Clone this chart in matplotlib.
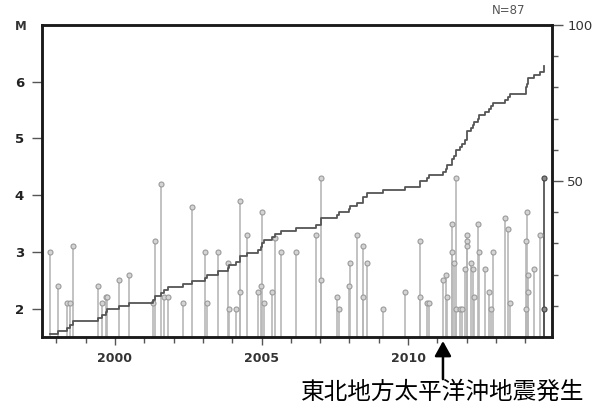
import matplotlib
matplotlib.use("Agg")
import matplotlib.pyplot as plt
from matplotlib.ticker import FixedLocator, NullFormatter
import numpy as np

# event times (decimal year) and magnitudes, in chronological order
times = [1997.79, 1998.07, 1998.36, 1998.45, 1998.58, 1999.43, 1999.55, 1999.68, 1999.73,
         2000.13, 2000.49, 2001.30, 2001.37, 2001.58, 2001.67, 2001.81, 2002.32, 2002.63,
         2003.06, 2003.13, 2003.52, 2003.87, 2003.89, 2004.14, 2004.25, 2004.27, 2004.52,
         2004.89, 2004.98, 2005.01, 2005.08, 2005.35, 2005.45, 2005.65, 2006.17, 2006.86,
         2007.03, 2007.03, 2007.57, 2007.63, 2007.97, 2008.03, 2008.26, 2008.45, 2008.45,
         2008.59, 2009.13, 2009.91, 2010.42, 2010.42, 2010.66, 2010.72, 2011.20, 2011.28,
         2011.34, 2011.49, 2011.49, 2011.56, 2011.62, 2011.65, 2011.76, 2011.85, 2011.93,
         2012.00, 2012.00, 2012.00, 2012.16, 2012.23, 2012.26, 2012.37, 2012.42, 2012.61,
         2012.76, 2012.83, 2012.89, 2013.30, 2013.40, 2013.49, 2014.01, 2014.01, 2014.07,
         2014.10, 2014.10, 2014.30, 2014.50, 2014.63, 2014.63]
mags = [3.0, 2.4, 2.1, 2.1, 3.1, 2.4, 2.1, 2.2, 2.2,
        2.5, 2.6, 2.1, 3.2, 4.2, 2.2, 2.2, 2.1, 3.8,
        3.0, 2.1, 3.0, 2.8, 2.0, 2.0, 2.3, 3.9, 3.3,
        2.3, 2.4, 3.7, 2.1, 2.3, 3.25, 3.0, 3.0, 3.3,
        4.3, 2.5, 2.2, 2.0, 2.4, 2.8, 3.3, 3.1, 2.2,
        2.8, 2.0, 2.3, 3.2, 2.2, 2.1, 2.1, 2.5, 2.6,
        2.2, 3.5, 3.0, 2.8, 4.3, 2.0, 2.0, 2.0, 2.7,
        3.3, 3.2, 3.1, 2.8, 2.7, 2.2, 3.5, 3.0, 2.7,
        2.3, 2.0, 3.0, 3.6, 3.4, 2.1, 3.2, 2.0, 3.7,
        2.6, 2.3, 2.7, 3.3, 4.3, 2.0]
n_recent = 2  # most recent events drawn darker

x_major = [2000, 2005, 2010]
x_labels = ["2000", "2005", "2010"]
x_minor = list(range(1998, 2015))
m_ticks = [2, 3, 4, 5, 6]
n_ticks = [50, 100]
n_minor = [10, 20, 30, 40, 60, 70, 80, 90]
quake_time = 2011.19
quake_label = "東北地方太平洋沖地震発生"

plt.rcParams['font.family'] = ['DejaVu Sans']
fig = plt.figure(figsize=(6.04, 4.09), dpi=100)
ax = fig.add_axes([42/604, 1-337/409, (552-42)/604, (337-25)/409])
ymin, ymax = 1.5, 7.0
ax.set_xlim(1997.51, 2014.91)
ax.set_ylim(ymin, ymax)

t = np.array(times)
m = np.array(mags)
old = slice(0, len(t) - n_recent)
new = slice(len(t) - n_recent, len(t))
ax.vlines(t[old], ymin, m[old], colors='#b8b8b8', lw=1.2, zorder=2)
ax.plot(t[old], m[old], 'o', ms=3.6, mfc='#d4d4d4', mec='#9a9a9a', mew=0.8, zorder=3)
ax.vlines(t[new], ymin, m[new], colors='#555555', lw=1.3, zorder=2)
ax.plot(t[new], m[new], 'o', ms=3.6, mfc='#888888', mec='#444444', mew=0.8, zorder=3)

ax2 = ax.twinx()
ax2.set_ylim(0, 100)
counts = np.arange(1, len(t) + 1)
ax2.step(t, counts, where='post', color='#555555', lw=1.3, zorder=4)

for a in (ax, ax2):
    for s in a.spines.values():
        s.set_linewidth(1.8)
        s.set_color('#1a1a1a')

ax.set_xticks(x_major)
ax.set_xticklabels(x_labels)
ax.xaxis.set_minor_locator(FixedLocator(x_minor))
ax.xaxis.set_minor_formatter(NullFormatter())
ax.set_yticks(m_ticks)
ax.tick_params(axis='x', which='major', length=6, width=1.0, color='#555555', pad=5,
               labelsize=9, labelcolor='#333333')
ax.tick_params(axis='x', which='minor', length=4.5, width=1.0, color='#555555')
ax.tick_params(axis='y', which='major', length=7, width=1.0, color='#555555', pad=6,
               labelsize=9.5, labelcolor='#222222')
for lab in ax.get_xticklabels() + ax.get_yticklabels():
    lab.set_fontweight('bold')

ax2.set_yticks(n_ticks)
ax2.yaxis.set_minor_locator(FixedLocator(n_minor))
ax2.yaxis.set_minor_formatter(NullFormatter())
ax2.tick_params(axis='y', which='major', length=8, width=1.0, color='#555555', pad=3,
                labelsize=9.5, labelcolor='#333333')
ax2.tick_params(axis='y', which='minor', length=4, width=1.0, color='#555555')

fig.text(15/604, 1-27/409, "M", fontsize=8.5, fontweight='bold', color='#333333',
         ha='left', va='center')
fig.text(509/604, 1-11/409, f"N={len(t)}", fontsize=8.5, color='#555555',
         ha='center', va='center')

ax.annotate('', xy=(quake_time, -0.013), xytext=(quake_time, -0.135),
            xycoords=('data', 'axes fraction'), textcoords=('data', 'axes fraction'),
            arrowprops=dict(arrowstyle='-|>,head_width=0.5,head_length=0.9',
                            mutation_scale=10, lw=1.8, color='black',
                            shrinkA=0, shrinkB=0),
            annotation_clip=False)
fig.text(443/604, 1-392/409, quake_label, fontsize=17, color='black',
         ha='center', va='center', family=['Noto Sans CJK JP', 'DejaVu Sans'])

fig.savefig("out.png", dpi=100)
